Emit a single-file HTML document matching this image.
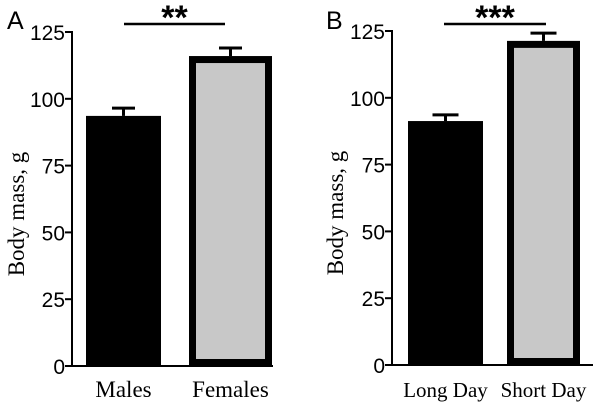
<!DOCTYPE html>
<html><head><meta charset="utf-8"><style>
html,body{margin:0;padding:0;background:#fff;width:600px;height:402px;overflow:hidden}
svg text{fill:#000}
.tk{font-family:"Liberation Sans",sans-serif;font-size:21px}
.lb{font-family:"Liberation Serif",serif;font-size:23px}
</style></head><body>
<svg id="chart" width="600" height="402" xmlns="http://www.w3.org/2000/svg"></svg>
<script>
const yTicks=[0,25,50,75,100,125];
const catsA=["Males","Females"];
const meansA=[93.6,116];
const errsA=[2.9,3.0];
const catsB=["Long Day","Short Day"];
const meansB=[91.3,121.3];
const errsB=[2.3,2.9];
const sigA="**";
const sigB="***";
const NS="http://www.w3.org/2000/svg";
const svg=document.getElementById('chart');
function mk(t,a,p){const e=document.createElementNS(NS,t);for(const k in a)e.setAttribute(k,a[k]);(p||svg).appendChild(e);return e;}
function panel(o){
  const g=mk('g',{});
  
  
  const y=v=>o.y0-(o.y0-o.y125)*v/125;
  const ax=mk('line',{x1:o.ax,y1:o.y125-1,x2:o.ax,y2:o.y0,stroke:'#000','stroke-width':2},g);
  
  
  const bx=mk('line',{x1:o.ax-1,y1:o.y0,x2:o.axEnd,y2:o.y0,stroke:'#000','stroke-width':2},g);
  
  
  yTicks.forEach(v=>{
    const l=mk('line',{x1:o.ax-7,y1:y(v),x2:o.ax,y2:y(v),stroke:'#000','stroke-width':2},g);
    
    
    const t=mk('text',{x:o.ax-7,y:y(v)+8,'text-anchor':'end',class:'tk'},g);t.textContent=v;
    
    
  });
  o.cats.forEach((c,i)=>{
    const b=o.bars[i], top=y(o.means[i]);
    const cx=(b[0]+b[1])/2;
    const ey=y(o.means[i]+o.errs[i]);
    const el=mk('line',{x1:cx,y1:ey,x2:cx,y2:top,stroke:'#000','stroke-width':3},g);
    
    
    const cap=mk('line',{x1:cx-o.capW/2,y1:ey,x2:cx+o.capW/2,y2:ey,stroke:'#000','stroke-width':3},g);
    
    
    let r;
    if(i===0){r=mk('rect',{x:b[0],y:top,width:b[1]-b[0],height:o.y0-top,fill:'#000'},g);}
    else{r=mk('rect',{x:b[0]+3.5,y:top+3.5,width:b[1]-b[0]-7,height:o.y0-top-7,fill:'#c8c8c8',stroke:'#000','stroke-width':7},g);}
    
    
    const t=mk('text',{x:cx,y:397,'text-anchor':'middle',class:'lb',style:o.small?'font-size:21px':''},g);t.textContent=c;
    
    
  });
  const sl=mk('line',{x1:o.sig[0],y1:24,x2:o.sig[1],y2:24,stroke:'#000','stroke-width':2.5},g);
  
  
  const st=mk('text',{x:(o.sig[0]+o.sig[1])/2,y:29,'text-anchor':'middle',style:'font-family:"Liberation Sans",sans-serif;font-size:34px;font-weight:bold'},g);st.textContent=o.sigText;
  
  
  const L=mk('text',{x:o.lx,y:29,class:'tk',style:'font-size:25px'},g);L.textContent=o.letter;
  
  
  const yl=mk('text',{x:0,y:0,'text-anchor':'middle',class:'lb',transform:`translate(${o.ylx},${(o.y0+o.y125)/2+15}) rotate(-90)`},g);yl.textContent='Body mass, g';
  
  
}
panel({letter:'A',ax:72,axEnd:273,y0:366,y125:32,cats:catsA,means:meansA,errs:errsA,bars:[[86,161],[189,272]],capW:23,sig:[124,225],sigText:sigA,lx:7,ylx:24});
panel({letter:'B',ax:392,axEnd:593,y0:365,y125:31,cats:catsB,means:meansB,errs:errsB,bars:[[408,483],[507,580]],capW:26,sig:[444,546],sigText:sigB,lx:326,ylx:343,small:true});
</script>
</body></html>
